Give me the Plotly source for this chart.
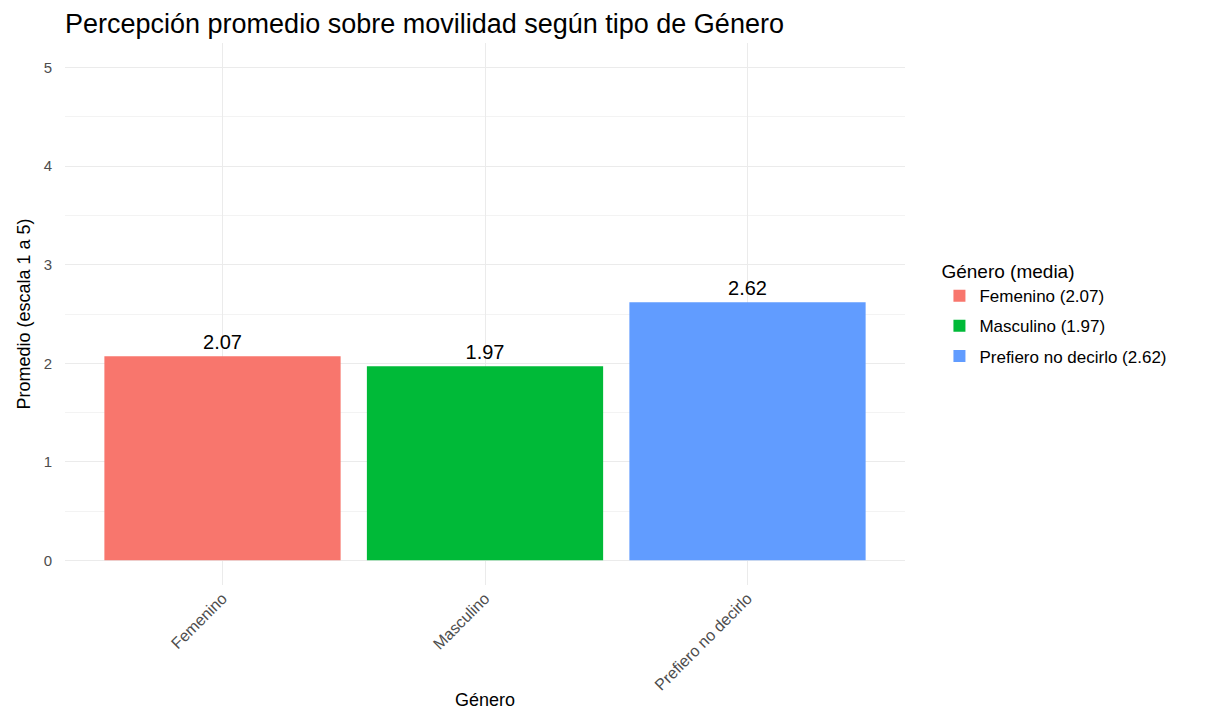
import plotly.graph_objects as go

categories = ["Femenino", "Masculino", "Prefiero no decirlo"]
means = [2.07, 1.97, 2.62]
colors = ["#F8766D", "#00BA38", "#619CFF"]
y_ticks = [0, 1, 2, 3, 4, 5]

FONT = "Liberation Sans, Arial, sans-serif"

fig = go.Figure()
for cat, val, col in zip(categories, means, colors):
    fig.add_trace(go.Bar(
        x=[cat], y=[val], name=f"{cat} ({val:.2f})",
        legendgroup=cat,
        marker=dict(color=col, line=dict(width=0)),
        width=0.9,
        text=[f"{val:.2f}"], textposition="outside",
        textfont=dict(size=20, color="black", family=FONT),
        cliponaxis=False,
    ))

fig.update_layout(
    width=1210, height=705,
    margin=dict(l=57, r=313, t=35, b=128),
    plot_bgcolor="white", paper_bgcolor="white",
    font=dict(family=FONT, color="black"),
    title=dict(text="Percepción promedio sobre movilidad según tipo de Género",
               x=57/1210, xanchor="left", y=1-16/705, yanchor="middle",
               font=dict(size=27, color="black", family=FONT)),
    barmode="overlay",
    showlegend=True,
    legend=dict(title=dict(text="Género (media)", font=dict(size=19, color="black")),
                font=dict(size=17, color="black"),
                x=1.041, xanchor="left", y=0.5, yanchor="middle",
                bgcolor="rgba(0,0,0,0)", tracegroupgap=5),
    xaxis=dict(
        type="category", categoryorder="array", categoryarray=categories,
        range=[-0.6, 2.6],
        automargin=False,
        showgrid=True, gridcolor="#ebebeb", gridwidth=1,
        showline=False, zeroline=False, ticks="",
        tickangle=-45,
        tickfont=dict(size=16, color="#4d4d4d"),
        title=dict(text="Género", font=dict(size=18, color="black"), standoff=0),
    ),
    yaxis=dict(
        range=[-0.25, 5.25],
        tickvals=y_ticks,
        automargin=False,
        showgrid=True, gridcolor="#ebebeb", gridwidth=1,
        minor=dict(dtick=0.5, tick0=0, showgrid=True, gridcolor="#f3f3f3", gridwidth=1),
        zeroline=False, showline=False, ticks="",
        tickfont=dict(size=15, color="#4d4d4d"),
        ticklabelstandoff=12,
        title=dict(text="Promedio (escala 1 a 5)", font=dict(size=18, color="black"), standoff=8),
    ),
)

fig.write_html("out.html")
